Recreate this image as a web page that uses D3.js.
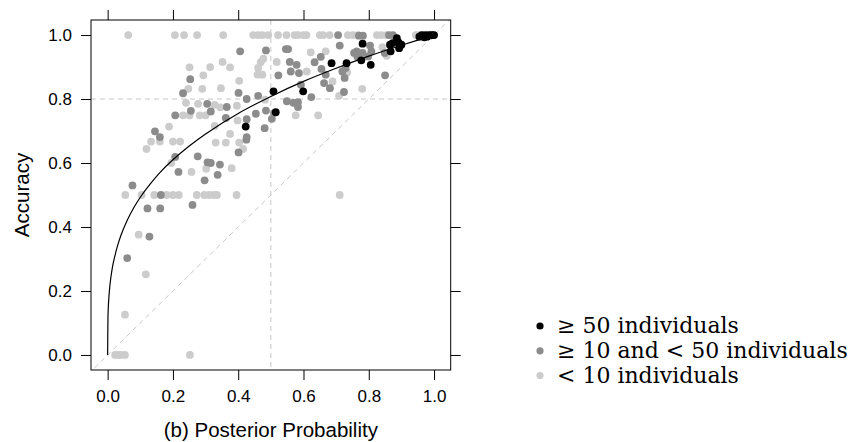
<!DOCTYPE html>
<html>
<head>
<meta charset="utf-8">
<script src="https://cdn.jsdelivr.net/npm/d3@7"></script>
<style>
  body { margin: 0; background: #fff; }
  svg { display: block; }
</style>
</head>
<body>
<div id="chart"></div>
<script>
const width = 862;
const height = 442;

// axis ticks
const tickValues = [0, 0.2, 0.4, 0.6, 0.8, 1.0];

// >= 50 individuals
const bigProb = [0.423, 0.508, 0.515, 0.599, 0.686, 0.732, 0.777, 0.806, 0.781, 0.865, 0.873, 0.867,
  0.886, 0.891, 0.900, 0.893, 0.955, 0.962, 0.968, 0.970, 0.975, 0.978, 0.980, 0.985, 0.990, 0.995, 1.000];
const bigAcc = [0.714, 0.824, 0.759, 0.824, 0.912, 0.912, 0.921, 0.907, 0.973, 0.970, 0.975, 0.949,
  0.990, 0.977, 0.970, 0.959, 0.995, 1.000, 0.998, 0.993, 1.000, 0.995, 0.997, 1.000, 0.999, 1.000, 1.000];

// >= 10 and < 50 individuals
const midProb = [0.253, 0.231, 0.305, 0.255, 0.207, 0.145, 0.160, 0.207, 0.276, 0.306, 0.217, 0.297,
  0.076, 0.163, 0.122, 0.161, 0.260, 0.128, 0.060,
  0.425, 0.401, 0.316, 0.344, 0.337,
  0.406, 0.485, 0.523, 0.546, 0.553, 0.558, 0.579, 0.561, 0.586, 0.592, 0.634, 0.653, 0.655, 0.668,
  0.663, 0.681, 0.624, 0.401, 0.426, 0.461, 0.549, 0.569, 0.583, 0.583, 0.365, 0.362, 0.426, 0.454,
  0.485, 0.503, 0.510, 0.481, 0.426, 0.316,
  0.711, 0.770, 0.782, 0.862, 0.874, 0.763, 0.781, 0.804, 0.808, 0.798, 0.765, 0.755, 0.849,
  0.729, 0.719, 0.726, 0.850, 0.724, 0.706];
const midAcc = [0.862, 0.818, 0.785, 0.763, 0.749, 0.699, 0.681, 0.619, 0.621, 0.602, 0.572, 0.546,
  0.530, 0.500, 0.458, 0.458, 0.469, 0.370, 0.303,
  0.673, 0.633, 0.600, 0.595, 0.563,
  0.949, 0.952, 0.874, 0.956, 0.956, 0.916, 0.907, 0.886, 0.881, 0.845, 0.915, 0.932, 0.894, 0.876,
  0.850, 0.834, 0.806, 0.819, 0.800, 0.810, 0.793, 0.788, 0.790, 0.775, 0.775, 0.741, 0.737, 0.754,
  0.764, 0.738, 0.756, 0.709, 0.681, 0.761,
  0.967, 0.998, 0.998, 1.000, 1.000, 0.949, 0.944, 0.967, 0.949, 0.933, 0.933, 0.944, 0.944,
  0.897, 0.886, 0.866, 0.874, 0.822, 1.000];

// < 10 individuals
const smallProb = [0.063, 0.206, 0.234, 0.274, 0.354, 0.446, 0.461, 0.474, 0.492, 0.522, 0.548, 0.573,
  0.583, 0.599, 0.609, 0.650, 0.660, 0.680, 0.736, 0.752, 0.767, 0.825, 0.839, 0.854, 0.944, 0.951, 0.966,
  0.251, 0.293, 0.314, 0.247, 0.290, 0.240, 0.277, 0.231, 0.251, 0.282, 0.300, 0.188,
  0.133, 0.160, 0.200, 0.222, 0.119, 0.195, 0.257, 0.302,
  0.054, 0.104, 0.143, 0.181, 0.200, 0.218, 0.273, 0.296, 0.311, 0.326, 0.335, 0.395, 0.711,
  0.095, 0.117, 0.053, 0.023, 0.032, 0.041, 0.053, 0.252,
  0.331, 0.362, 0.403, 0.415, 0.380,
  0.477, 0.469, 0.461, 0.352, 0.375, 0.459, 0.474, 0.403, 0.347, 0.518, 0.622, 0.668, 0.610, 0.482,
  0.576, 0.645, 0.328, 0.345, 0.396, 0.398, 0.375, 0.328,
  0.734, 0.689, 0.780, 0.709, 0.842, 0.855];
const smallAcc = [1, 1, 1, 1, 1, 1, 1, 1, 1, 1, 1, 1,
  1, 1, 1, 1, 1, 1, 1, 1, 1, 1, 1, 1, 1, 1, 1,
  0.899, 0.874, 0.900, 0.832, 0.832, 0.788, 0.785, 0.749, 0.749, 0.749, 0.749, 0.714,
  0.667, 0.667, 0.667, 0.667, 0.644, 0.600, 0.572, 0.582,
  0.5, 0.5, 0.5, 0.5, 0.5, 0.5, 0.5, 0.5, 0.5, 0.5, 0.5, 0.5, 0.5,
  0.376, 0.252, 0.126, 0, 0, 0, 0, 0,
  0.664, 0.664, 0.664, 0.644, 0.584,
  0.926, 0.915, 0.897, 0.916, 0.899, 0.876, 0.876, 0.857, 0.834, 0.916, 0.946, 0.949, 0.886, 0.798,
  0.749, 0.749, 0.782, 0.774, 0.779, 0.733, 0.691, 0.716,
  0.883, 0.855, 0.832, 0.810, 0.962, 0.935];

// fitted curve
const curveProb = [0, 0.001, 0.002, 0.004, 0.007, 0.01, 0.015, 0.02, 0.03, 0.04, 0.06, 0.08, 0.1, 0.13,
  0.16, 0.2, 0.25, 0.3, 0.4, 0.5, 0.6, 0.7, 0.8, 0.9, 1.0];
const curveAcc = [0, 0.12, 0.148, 0.183, 0.218, 0.243, 0.276, 0.30, 0.34, 0.372, 0.421, 0.46, 0.493, 0.534,
  0.57, 0.61, 0.653, 0.691, 0.755, 0.808, 0.855, 0.896, 0.934, 0.968, 1.0];

const groupNames = ["\u2265 50 individuals", "\u2265 10 and < 50 individuals", "< 10 individuals"];
const groupColors = ["#000000", "#8c8c8c", "#cccccc"];

const panelLeft = 91, panelRight = 450.7, panelTop = 20, panelBottom = 370;

const svg = d3.select("#chart")
    .append("svg")
    .attr("width", width)
    .attr("height", height);

const x = d3.scaleLinear().domain([-0.051, 1.051]).range([panelLeft, panelRight]);
const y = d3.scaleLinear().domain([-0.047, 1.047]).range([panelBottom, panelTop]);

svg.append("clipPath")
    .attr("id", "panel")
    .append("rect")
    .attr("x", panelLeft).attr("y", panelTop)
    .attr("width", panelRight - panelLeft).attr("height", panelBottom - panelTop);

// reference lines
const refs = svg.append("g")
    .attr("clip-path", "url(#panel)")
    .attr("stroke", "#c8c8c8")
    .attr("stroke-width", 1)
    .attr("stroke-dasharray", "5,4")
    .attr("fill", "none");

refs.append("line")
    .attr("x1", x(-0.1)).attr("y1", y(-0.1))
    .attr("x2", x(1.1)).attr("y2", y(1.1));
refs.append("line")
    .attr("x1", panelLeft).attr("x2", panelRight)
    .attr("y1", y(0.8)).attr("y2", y(0.8));
refs.append("line")
    .attr("x1", x(0.5)).attr("x2", x(0.5))
    .attr("y1", panelTop).attr("y2", panelBottom);

// points
const groups = [
    { prob: smallProb, acc: smallAcc, color: groupColors[2] },
    { prob: midProb, acc: midAcc, color: groupColors[1] },
    { prob: bigProb, acc: bigAcc, color: groupColors[0] }
];

groups.forEach(g => {
    svg.append("g")
        .selectAll("circle")
        .data(g.prob.map((p, i) => [p, g.acc[i]]))
        .join("circle")
        .attr("cx", d => x(d[0]))
        .attr("cy", d => y(d[1]))
        .attr("r", 3.9)
        .attr("fill", g.color);
});

// fitted curve
const line = d3.line()
    .x((d, i) => x(curveProb[i]))
    .y(d => y(d))
    .curve(d3.curveCatmullRom);

svg.append("path")
    .attr("d", line(curveAcc))
    .attr("fill", "none")
    .attr("stroke", "#000")
    .attr("stroke-width", 1.2);

// axes
const axisFont = "'Liberation Sans', Arial, Helvetica, sans-serif";

function styleAxis(g) {
    g.select(".domain").remove();
    g.selectAll(".tick line").attr("stroke", "#000");
    g.selectAll("text")
        .attr("fill", "#000")
        .style("font-family", axisFont)
        .style("font-size", "17px");
}

svg.append("g")
    .attr("transform", `translate(0,${panelBottom})`)
    .call(d3.axisBottom(x).tickValues(tickValues).tickSize(10).tickPadding(10).tickFormat(d3.format(".1f")))
    .call(styleAxis);

svg.append("g")
    .attr("transform", `translate(0,${panelTop})`)
    .call(d3.axisTop(x).tickValues(tickValues).tickSize(10).tickFormat(""))
    .call(styleAxis);

svg.append("g")
    .attr("transform", `translate(${panelLeft},0)`)
    .call(d3.axisLeft(y).tickValues(tickValues).tickSize(10).tickPadding(9).tickFormat(d3.format(".1f")))
    .call(styleAxis);

svg.append("g")
    .attr("transform", `translate(${panelRight},0)`)
    .call(d3.axisRight(y).tickValues(tickValues).tickSize(10).tickFormat(""))
    .call(styleAxis);

// panel border
svg.append("rect")
    .attr("x", panelLeft).attr("y", panelTop)
    .attr("width", panelRight - panelLeft).attr("height", panelBottom - panelTop)
    .attr("fill", "none")
    .attr("stroke", "#000")
    .attr("stroke-width", 1);

// axis titles
svg.append("text")
    .attr("x", (panelLeft + panelRight) / 2)
    .attr("y", 437)
    .attr("text-anchor", "middle")
    .style("font-family", axisFont)
    .style("font-size", "20.5px")
    .text("(b) Posterior Probability");

svg.append("text")
    .attr("transform", `translate(29,${(panelTop + panelBottom) / 2}) rotate(-90)`)
    .attr("text-anchor", "middle")
    .style("font-family", axisFont)
    .style("font-size", "20.5px")
    .text("Accuracy");

// legend
const legend = svg.append("g").attr("transform", "translate(540,326)");
groupNames.forEach((name, i) => {
    const row = legend.append("g").attr("transform", `translate(0,${i * 24.8})`);
    row.append("circle")
        .attr("r", 3.6)
        .attr("fill", groupColors[i]);
    row.append("text")
        .attr("x", 17)
        .attr("y", 7)
        .style("font-family", "'DejaVu Serif', 'Liberation Serif', serif")
        .style("font-size", "22px")
        .attr("fill", "#000")
        .text(name);
});
</script>
</body>
</html>
